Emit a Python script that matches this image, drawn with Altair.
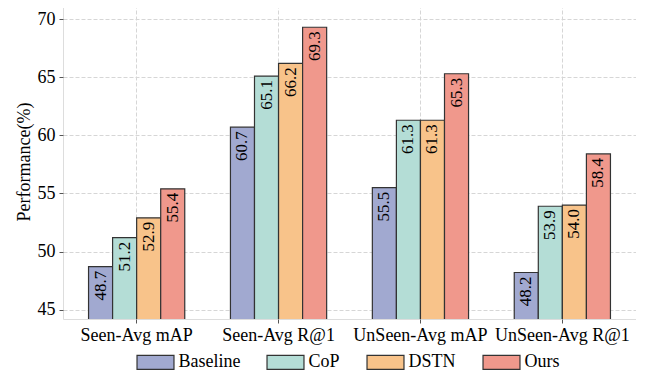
import altair as alt
import pandas as pd

groups = ["Seen-Avg mAP", "Seen-Avg R@1", "UnSeen-Avg mAP", "UnSeen-Avg R@1"]
methods = ["Baseline", "CoP", "DSTN", "Ours"]
baseline = [48.7, 60.7, 55.5, 48.2]
cop = [51.2, 65.1, 61.3, 53.9]
dstn = [52.9, 66.2, 61.3, 54.0]
ours = [55.4, 69.3, 65.3, 58.4]
colors = ["#A1A9D0", "#B4DDD6", "#F8C38A", "#F0988C"]

rows = []
for m, vals in zip(methods, [baseline, cop, dstn, ours]):
    for g, v in zip(groups, vals):
        rows.append({"group": g, "method": m, "value": v, "label": f"{v:.1f}"})
df = pd.DataFrame(rows)

FONT = "Liberation Serif"
ymin, ymax = 44.2, 71.3

x = alt.X("group:N", sort=groups, title=None,
          scale=alt.Scale(paddingInner=0.322, paddingOuter=0.18),
          axis=alt.Axis(labelAngle=0, labelFontSize=18, labelFont=FONT, labelColor="#000",
                        tickSize=4, tickColor="#555", domain=False, grid=True,
                        bandPosition=0.5, gridDash=[4, 2], gridColor="#d6d6d6",
                        labelPadding=3))
xo = alt.XOffset("method:N", sort=methods, scale=alt.Scale(paddingInner=0, paddingOuter=0))
y = alt.Y("value:Q", title="Performance(%)",
          scale=alt.Scale(domain=[ymin, ymax], nice=False, zero=False),
          axis=alt.Axis(values=[45, 50, 55, 60, 65, 70], labelFontSize=18, labelFont=FONT,
                        labelColor="#000", titleFont=FONT, titleFontSize=18,
                        titleFontWeight="normal", titleColor="#000", titlePadding=4,
                        tickSize=4, tickColor="#555", domain=False, grid=True,
                        gridDash=[4, 2], gridColor="#d6d6d6", labelPadding=4))

bars = alt.Chart(df).mark_bar(stroke="#333", strokeWidth=1.2, clip=True).encode(
    x=x, xOffset=xo, y=y,
    color=alt.Color("method:N", sort=methods,
                    scale=alt.Scale(domain=methods, range=colors),
                    legend=alt.Legend(title=None, orient="none", direction="horizontal",
                                      legendX=83.5, legendY=349, padding=0,
                                      labelFont=FONT, labelFontSize=18, labelColor="#000",
                                      symbolType="M-2.64,-1L2.64,-1L2.64,1L-2.64,1Z",
                                      symbolSize=196, symbolStrokeColor="#333",
                                      symbolStrokeWidth=1.2, symbolOpacity=1,
                                      labelOffset=14, columnPadding=24)),
)

text = alt.Chart(df).mark_text(angle=270, align="right", baseline="middle", dx=-4,
                               font=FONT, fontSize=17, color="#000").encode(
    x=alt.X("group:N", sort=groups), xOffset=alt.XOffset("method:N", sort=methods),
    y=alt.Y("value:Q"), text="label:N")

chart = (bars + text).properties(
    width=573, height=315,
    padding={"left": 7, "top": -4, "right": 0, "bottom": 0},
).configure_view(stroke="#777", strokeWidth=1.5).configure(background="white")

chart.save("out.html", embed_options={"renderer": "svg", "actions": False})
